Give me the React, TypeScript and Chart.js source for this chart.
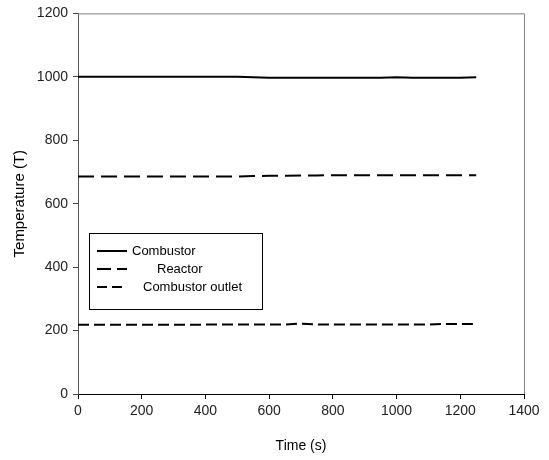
import React, { useEffect, useRef } from "react";
import { Chart, registerables } from "chart.js";

Chart.register(...registerables);

const timeS = [0, 50, 100, 150, 200, 250, 300, 350, 400, 450, 500, 550, 600, 650, 700, 750, 800, 850, 900, 950, 1000, 1050, 1100, 1150, 1200, 1250];
const combustor = [1000, 1000, 1000, 1000, 1000, 1000, 1000, 1000, 1000, 1000, 1000, 999, 997, 997, 997, 997, 997, 997, 997, 997, 999, 997, 997, 997, 997, 999];
const reactor = [686, 686, 686, 686, 686, 686, 686, 686, 686, 686, 686, 687, 688, 688, 689, 689, 690, 690, 690, 690, 690, 690, 690, 690, 690, 690];
const outlet = [218, 218, 218, 218, 218, 218, 218, 218, 219, 219, 219, 219, 219, 219, 222, 219, 219, 219, 219, 219, 219, 219, 219, 221, 221, 221];

const seriesNames = ["Combustor", "Reactor", "Combustor outlet"];
const xTicks = [0, 200, 400, 600, 800, 1000, 1200, 1400];
const yTicks = [0, 200, 400, 600, 800, 1000, 1200];

const FONT = "'Liberation Sans', Arial, sans-serif";

export default function App() {
  const ref = useRef<HTMLCanvasElement | null>(null);
  useEffect(() => {
    if (!ref.current) return;
    const dashes = [[], [16, 7], [11, 5]];
    const legendDashes = [[], [14, 6], [10, 5]];
    const framePlugin = {
      id: "frame",
      afterDraw(chart: any) {
        const { ctx, chartArea } = chart;
        const { left, right, top, bottom } = chartArea;
        ctx.save();
        ctx.strokeStyle = "#808080";
        ctx.lineWidth = 1;
        ctx.beginPath();
        ctx.moveTo(left, top + 0.5);
        ctx.lineTo(right + 0.5, top + 0.5);
        ctx.lineTo(right + 0.5, bottom);
        ctx.stroke();
        // legend box
        const bx = 89.5, by = 233.5, bw = 173, bh = 76;
        ctx.strokeStyle = "#000";
        ctx.strokeRect(bx, by, bw, bh);
        const rows = [251, 269, 287];
        const textX = [132, 157, 143];
        ctx.font = `13px ${FONT}`;
        ctx.textBaseline = "middle";
        ctx.fillStyle = "#000";
        rows.forEach((ry, i) => {
          ctx.beginPath();
          ctx.setLineDash(legendDashes[i]);
          ctx.lineWidth = 2;
          ctx.moveTo(97, ry);
          ctx.lineTo(127, ry);
          ctx.stroke();
          ctx.setLineDash([]);
          ctx.fillText(seriesNames[i], textX[i], ry);
        });
        ctx.restore();
      },
    };
    const mk = (label: string, data: number[], i: number) => ({
      label,
      data: timeS.map((t, k) => ({ x: t, y: data[k] })),
      borderColor: "#000",
      borderWidth: 2,
      borderDash: dashes[i],
      pointRadius: 0,
      tension: 0,
      fill: false,
    });
    const chart = new Chart(ref.current, {
      type: "line",
      data: {
        datasets: [mk(seriesNames[0], combustor, 0), mk(seriesNames[1], reactor, 1), mk(seriesNames[2], outlet, 2)],
      },
      plugins: [framePlugin],
      options: {
        animation: false,
        responsive: false,
        maintainAspectRatio: false,
        layout: { padding: { left: 0, right: 25, top: 12, bottom: 0 } },
        plugins: { legend: { display: false }, tooltip: { enabled: false } },
        scales: {
          x: {
            type: "linear",
            min: 0,
            max: 1400,
            afterBuildTicks: (s: any) => { s.ticks = xTicks.map((v) => ({ value: v })); },
            afterFit: (s: any) => { s.height = 66; },
            ticks: { color: "#222", font: { family: FONT, size: 14 }, padding: 4, maxRotation: 0, callback: (v: any) => String(v) },
            grid: { drawOnChartArea: false, drawTicks: true, tickLength: 5, color: "#000" },
            border: { color: "#000", width: 1 },
            title: { display: true, text: "Time (s)", color: "#000", font: { family: FONT, size: 14 }, padding: { top: 0, bottom: 5 } },
          },
          y: {
            type: "linear",
            min: 0,
            max: 1200,
            afterBuildTicks: (s: any) => { s.ticks = yTicks.map((v) => ({ value: v })); },
            afterFit: (s: any) => { s.width = 78; },
            ticks: { color: "#222", font: { family: FONT, size: 14 }, padding: 5, callback: (v: any) => String(v) },
            grid: { drawOnChartArea: false, drawTicks: true, tickLength: 5, color: "#444" },
            border: { color: "#555", width: 1 },
            title: { display: true, text: "Temperature (T)", color: "#000", font: { family: FONT, size: 15 }, padding: { top: 11, bottom: 0 } },
          },
        },
      },
    } as any);
    return () => chart.destroy();
  }, []);
  return (
    <div style={{ position: "fixed", left: 0, top: 0, width: 549, height: 460, background: "#fff" }}>
      <canvas ref={ref} width={549} height={460} style={{ width: 549, height: 460 }} />
    </div>
  );
}
